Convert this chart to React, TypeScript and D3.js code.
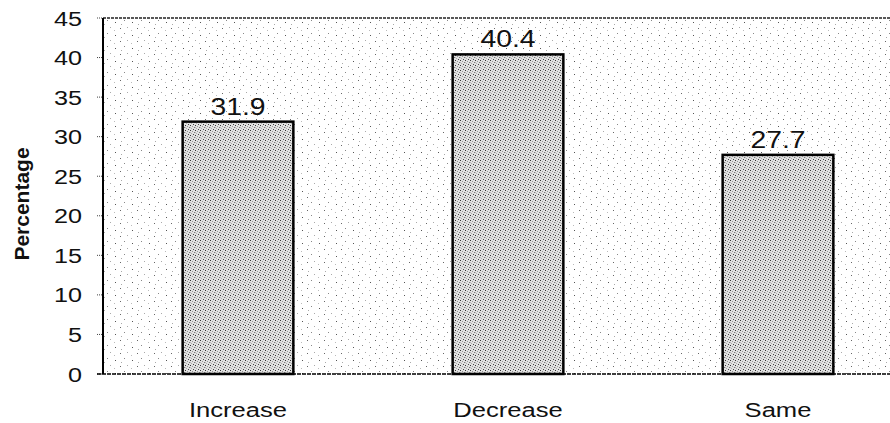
import React from 'react';
import * as d3 from 'd3';

// data
const categories = ['Increase', 'Decrease', 'Same'];
const values = [31.9, 40.4, 27.7];
const yTicks = [0, 5, 10, 15, 20, 25, 30, 35, 40, 45];

const W = 890;
const H = 423;
const left = 103;
const top = 18;
const bottom = 374;

const font = 'Arial, "Liberation Sans", sans-serif';

// the scanned text is a bit wide, so stretch it horizontally
const Wide = ({ x, y, anchor = 'middle', size, sx = 1.2, children }: any) => (
  <text
    transform={`translate(${x}, ${y}) scale(${sx}, 1)`}
    textAnchor={anchor}
    fontFamily={font}
    fontSize={size}
    fill="#111"
  >
    {children}
  </text>
);

const App = () => {
  const x = d3.scaleBand<string>()
    .domain(categories)
    .range([left, left + 810])
    .paddingInner(0.59)
    .paddingOuter(0.295);

  const y = d3.scaleLinear()
    .domain([0, 45])
    .range([bottom, top]);

  return (
    <svg width={W} height={H} style={{ position: 'absolute', left: 0, top: 0, background: '#fff' }}>
      <defs>
        {/* sparse stipple for the plot background */}
        <pattern id="bgDots" width="17" height="13" patternUnits="userSpaceOnUse">
          <rect width="17" height="13" fill="#fff" />
          <rect x="1" y="2" width="1" height="1" fill="#666" />
          <rect x="8" y="1" width="1" height="1" fill="#aaa" />
          <rect x="5" y="7" width="1" height="1" fill="#888" />
          <rect x="13" y="9" width="1" height="1" fill="#555" />
          <rect x="12" y="4" width="1" height="1" fill="#bbb" />
          <rect x="2" y="11" width="1" height="1" fill="#aaa" />
        </pattern>
        {/* denser grey stipple for the bars */}
        <pattern id="barDots" width="5" height="5" patternUnits="userSpaceOnUse">
          <rect width="5" height="5" fill="#e2e2e2" />
          <rect x="0" y="0" width="1" height="1" fill="#333" />
          <rect x="2" y="1" width="1" height="1" fill="#999" />
          <rect x="4" y="2" width="1" height="1" fill="#777" />
          <rect x="1" y="3" width="1" height="1" fill="#aaa" />
          <rect x="3" y="4" width="1" height="1" fill="#444" />
          <rect x="0" y="2" width="1" height="1" fill="#bbb" />
        </pattern>
      </defs>

      <rect x={left} y={top} width={W - left} height={bottom - top} fill="url(#bgDots)" />

      {/* top border, dotted */}
      <line x1={left} x2={W} y1={top} y2={top} stroke="#222" strokeWidth={1.5} strokeDasharray="3 1" />

      {/* y ticks + labels */}
      {yTicks.map(t => (
        <g key={t}>
          <line x1={97} x2={left} y1={y(t)} y2={y(t)} stroke="#444" strokeWidth={1} strokeDasharray="1 1" />
          <Wide x={82} y={y(t) + 7.5} anchor="end" size={21}>{t}</Wide>
        </g>
      ))}

      <text
        transform={`translate(29, 204) rotate(-90)`}
        textAnchor="middle"
        fontFamily={font}
        fontSize={21}
        fontWeight="bold"
        fill="#111"
      >
        Percentage
      </text>

      {/* bars */}
      {categories.map((c, i) => {
        const cx = (x(c) as number) + x.bandwidth() / 2;
        return (
          <g key={c}>
            <rect
              x={x(c)}
              y={y(values[i])}
              width={x.bandwidth()}
              height={bottom - y(values[i])}
              fill="url(#barDots)"
              stroke="#000"
              strokeWidth={2.5}
            />
            <Wide x={cx} y={y(values[i]) - 7} size={24} sx={1.18}>{values[i]}</Wide>
            <Wide x={cx} y={417} size={21} sx={1.22}>{c}</Wide>
          </g>
        );
      })}

      {/* axes */}
      <line x1={left} x2={left} y1={top} y2={bottom} stroke="#000" strokeWidth={2} />
      <line x1={left - 6} x2={W} y1={bottom} y2={bottom} stroke="#000" strokeWidth={1.5} strokeDasharray="4 1" />
    </svg>
  );
};

export default App;
